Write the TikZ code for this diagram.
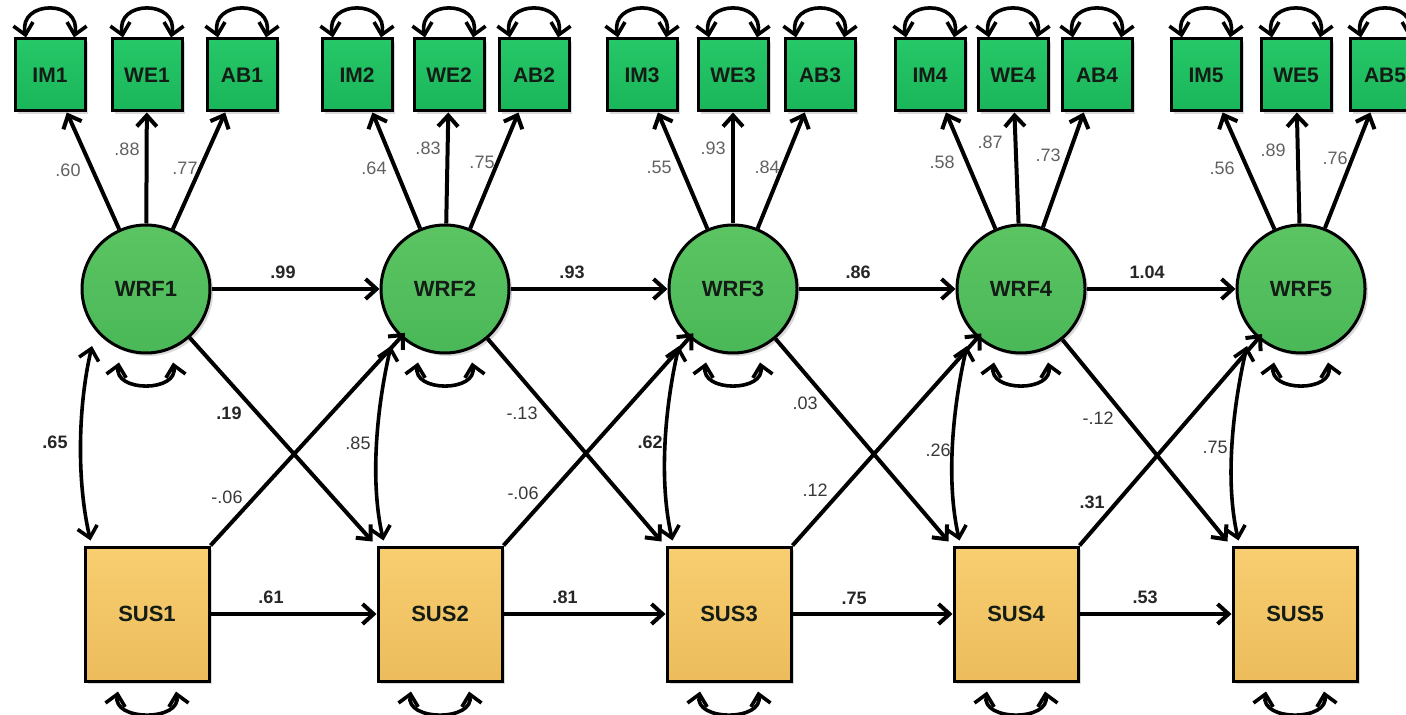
\documentclass[tikz,border=0pt]{standalone}
\usepackage{fontspec}
\setmainfont{Liberation Sans}
\usetikzlibrary{arrows.meta,calc,shadows}

\definecolor{obstop}{RGB}{38,200,104}
\definecolor{obsbot}{RGB}{26,182,90}
\definecolor{lattop}{RGB}{92,196,98}
\definecolor{latbot}{RGB}{74,184,88}
\definecolor{sustop}{RGB}{248,206,112}
\definecolor{susbot}{RGB}{236,188,92}
\definecolor{ink}{RGB}{20,28,22}

\begin{document}
\begin{tikzpicture}[x=0.5pt,y=-0.5pt,
  >={Straight Barb[length=5.5pt,width=10pt]},
  shade/.style={drop shadow={shadow xshift=1.5pt,shadow yshift=-1.5pt,opacity=0.25,fill=black!60}},
  obs/.style={rectangle,draw,line width=1.5pt,top color=obstop,bottom color=obsbot,
    minimum width=35pt,minimum height=36pt,inner sep=0pt,text=ink,
    font=\fontsize{10.5}{12}\selectfont\bfseries,shade},
  lat/.style={circle,draw,line width=1.5pt,top color=lattop,bottom color=latbot,
    minimum size=64pt,inner sep=0pt,text=ink,
    font=\fontsize{11}{13}\selectfont\bfseries,shade},
  sus/.style={rectangle,draw,line width=1.5pt,top color=sustop,bottom color=susbot,
    minimum width=62pt,minimum height=67pt,inner sep=0pt,text=ink,
    font=\fontsize{11}{13}\selectfont\bfseries,shade},
  reg/.style={->,line width=2pt},
  cov/.style={<->,line width=1.8pt},
  ld/.style={font=\fontsize{9}{10}\selectfont,text=black!62,inner sep=0pt},
  lr/.style={font=\fontsize{9}{10}\selectfont,text=black!78,inner sep=0pt},
  lb/.style={font=\fontsize{9}{10}\selectfont\bfseries,text=black!85,inner sep=0pt},
]
\useasboundingbox (0,0) rectangle (1406,715);

% observed indicators
\foreach \n/\x in {IM1/50,WE1/147,AB1/242,IM2/357,WE2/449,AB2/534,
                   IM3/642,WE3/733,AB3/820,IM4/930,WE4/1013,AB4/1097,
                   IM5/1206,WE5/1296,AB5/1385}
  \node[obs] (\n) at (\x,75) {\n};

% latent factors
\foreach \i/\x in {1/146,2/445,3/733,4/1021,5/1301}
  \node[lat] (WRF\i) at (\x,289) {WRF\i};

% observed outcome
\foreach \i/\x in {1/147,2/440,3/729,4/1016,5/1295}
  \node[sus] (SUS\i) at (\x,614) {SUS\i};

% error variances
\foreach \n in {IM1,WE1,AB1,IM2,WE2,AB2,IM3,WE3,AB3,IM4,WE4,AB4,IM5,WE5,AB5}
  \draw[cov] ($(\n.north)+(-24,0)$) .. controls +(-8,-38) and +(8,-38) .. ($(\n.north)+(24,0)$);
\foreach \i in {1,...,5}{
  \draw[cov] ($(WRF\i.south)+(-27,8)$) .. controls +(-6,30) and +(6,30) .. ($(WRF\i.south)+(27,8)$);
  \draw[cov] ($(SUS\i.south)+(-29,9)$) .. controls +(-6,30) and +(6,30) .. ($(SUS\i.south)+(29,9)$);
}

% loadings
\foreach \i in {1,...,5}{
  \draw[reg] (WRF\i) -- (IM\i);
  \draw[reg] (WRF\i) -- (WE\i);
  \draw[reg] (WRF\i) -- (AB\i);
}

% autoregressive and cross-lagged paths
\foreach \i/\j in {1/2,2/3,3/4,4/5}{
  \draw[reg] (WRF\i) -- (WRF\j);
  \draw[reg] (SUS\i) -- (SUS\j);
  \draw[reg] (WRF\i) -- ($(SUS\j.north west)+(-4,-4)$);
  \draw[reg,shorten >=-3pt] (SUS\i.north east) -- (WRF\j);
}

% within-wave covariances
\foreach \i in {1,...,5}
  \draw[cov] ($(WRF\i.center)+(-54,57)$) .. controls +(-14,60) and +(-14,-60) .. ($(SUS\i.north west)+(7,-5)$);

% loading estimates
\node[ld] (l11) at (68,170)  {.60};
\node[ld] (l12) at (127,149) {.88};
\node[ld] (l13) at (185,168) {.77};
\node[ld] (l21) at (374,168) {.64};
\node[ld] (l22) at (428,148) {.83};
\node[ld] (l23) at (482,162) {.75};
\node[ld] (l31) at (659,167) {.55};
\node[ld] (l32) at (713,148) {.93};
\node[ld] (l33) at (767,167) {.84};
\node[ld] (l41) at (942,162) {.58};
\node[ld] (l42) at (990,142) {.87};
\node[ld] (l43) at (1048,155) {.73};
\node[ld] (l51) at (1222,168) {.56};
\node[ld] (l52) at (1273,150) {.89};
\node[ld] (l53) at (1335,158) {.76};

% stability estimates
\node[lb] (w12) at (283,272)  {.99};
\node[lb] (w23) at (572,272)  {.93};
\node[lb] (w34) at (858,272)  {.86};
\node[lb] (w45) at (1147,272) {1.04};
\node[lb] (s12) at (271,597)  {.61};
\node[lb] (s23) at (565,597)  {.81};
\node[lb] (s34) at (854,598)  {.75};
\node[lb] (s45) at (1145,597) {.53};

% cross-lagged estimates
\node[lb] (c12) at (229,413)  {.19};
\node[lr] (c23) at (522,413)  {-.13};
\node[lr] (c34) at (805,403)  {.03};
\node[lr] (c45) at (1098,418) {-.12};
\node[lr] (d12) at (227,497)  {-.06};
\node[lr] (d23) at (523,493)  {-.06};
\node[lr] (d34) at (815,490)  {.12};
\node[lb] (d45) at (1092,502) {.31};

% covariance estimates
\node[lb] (r1) at (55,442)   {.65};
\node[lr] (r2) at (358,443)  {.85};
\node[lb] (r3) at (650,442)  {.62};
\node[lr] (r4) at (938,450)  {.26};
\node[lr] (r5) at (1215,447) {.75};
\end{tikzpicture}
\end{document}
